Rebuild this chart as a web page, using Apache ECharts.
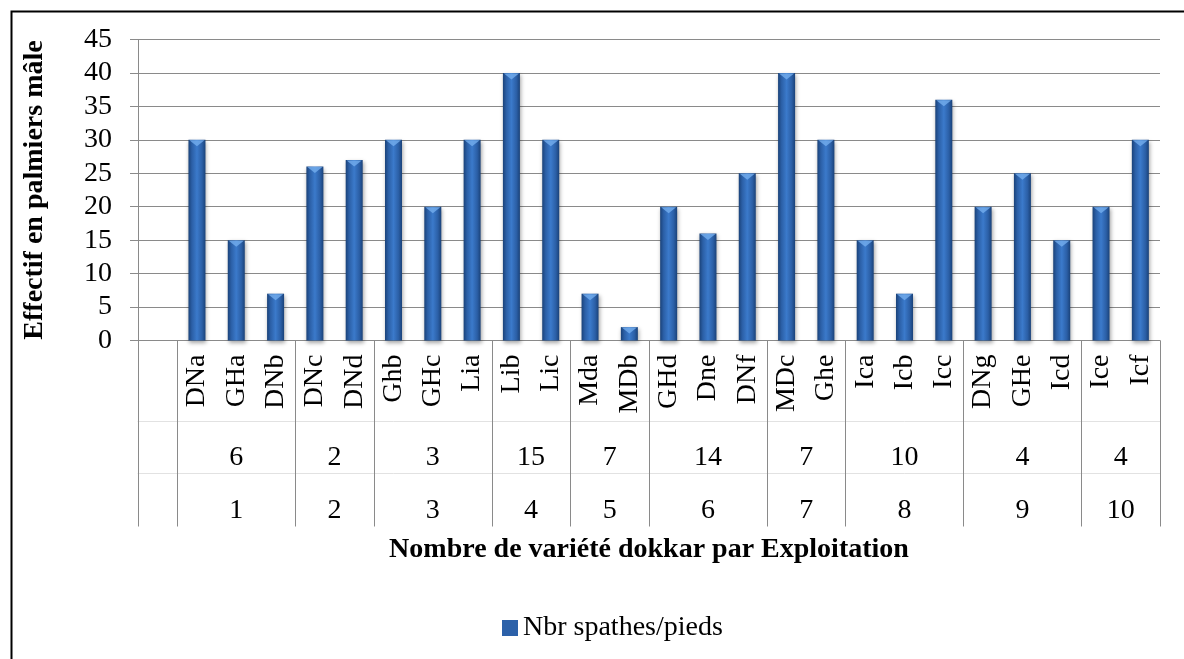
<!DOCTYPE html>
<html>
<head>
<meta charset="utf-8">
<script src="https://cdn.jsdelivr.net/npm/echarts@6/dist/echarts.min.js"></script>
<style>html,body{margin:0;padding:0;background:#fff}#c{width:1184px;height:659px}</style>
</head>
<body>
<div id="c"></div>
<script>
// ---- data ----
const varieties = ['DNa','GHa','DNb','DNc','DNd','Ghb','GHc','Lia','Lib','Lic','Mda','MDb','GHd','Dne','DNf','MDc','Ghe','Ica','Icb','Icc','DNg','GHe','Icd','Ice','Icf'];
const values = [30,15,7,26,27,30,20,30,40,30,7,2,20,16,25,40,30,15,7,36,20,25,15,20,30];
const nbVarietes = ['6','2','3','15','7','14','7','10','4','4'];
const exploitations = ['1','2','3','4','5','6','7','8','9','10'];
const groupSizes = [3,2,3,2,2,3,2,3,3,2];
const seriesName = 'Nbr spathes/pieds';
const yTitle = 'Effectif en palmiers mâle';
const xTitle = 'Nombre de variété dokkar par Exploitation';

// ---- derived ----
const categories = [''].concat(varieties);
const barData = ['-'].concat(values);
const nHalf = categories.length * 2 + 1;
const half1 = new Array(nHalf).fill('');
const half2 = new Array(nHalf).fill('');
const half3 = new Array(nHalf).fill('');
categories.forEach((c, i) => { half1[2 * i + 1] = c; });
const boundaries = new Set([0, 2]);
let start = 1;
groupSizes.forEach((s, g) => {
  half2[2 * start + s] = nbVarietes[g];
  half3[2 * start + s] = exploitations[g];
  start += s;
  boundaries.add(2 * start);
});
const h1 = half1.map((v, i) => i + '|' + v);
const h2 = half2.map((v, i) => i + '|' + v);
const h3 = half3.map((v, i) => i + '|' + v);
const fmt = v => v.split('|')[1];

const FONT = 'Liberation Serif';
const GRID_COL = '#8a8a8a';
const legendText = { fontFamily: FONT, fontSize: 28, color: '#000', fontWeight: 'normal' };

const chart = echarts.init(document.getElementById('c'), null, { renderer: 'canvas' });
const option = {
  backgroundColor: '#ffffff',
  animation: false,
  textStyle: { fontFamily: FONT, color: '#000' },
  graphic: [{
    type: 'rect', left: 9, top: 9,
    shape: { width: 1400, height: 900 },
    style: { fill: 'none', stroke: '#000', lineWidth: 2 }, silent: true
  }],
  grid: { left: 138, right: 24, top: 39.5, bottom: 318.5, containLabel: false },
  legend: {
    data: [{ name: seriesName, textStyle: legendText }], left: 497, top: 609,
    icon: 'rect', itemWidth: 16, itemHeight: 16, itemGap: 4,
    formatter: '{t|{name}}',
    textStyle: Object.assign({ rich: { t: legendText } }, legendText),
    itemStyle: { color: '#2c61a9' }
  },
  xAxis: [
    { type: 'category', data: categories, show: false, boundaryGap: true, gridIndex: 0 },
    {
      type: 'category', data: h1, boundaryGap: false, position: 'bottom', offset: 0,
      axisLine: { show: true, lineStyle: { color: GRID_COL, width: 1 } },
      axisTick: { show: true, length: 186, interval: (i) => boundaries.has(i), lineStyle: { color: GRID_COL, width: 1 } },
      axisLabel: { interval: 0, rotate: 90, margin: 14, formatter: fmt, fontFamily: FONT, fontSize: 28, color: '#000' },
      splitLine: { show: false },
      name: xTitle, nameLocation: 'middle', nameGap: 195,
      nameTextStyle: { fontFamily: FONT, fontSize: 28, fontWeight: 'bold', color: '#000' }
    },
    {
      type: 'category', data: h2, boundaryGap: false, position: 'bottom', offset: 81,
      axisLine: { show: true, lineStyle: { color: '#e2e2e2', width: 1 } },
      axisTick: { show: false },
      axisLabel: { interval: 0, margin: 22, formatter: fmt, fontFamily: FONT, fontSize: 28, color: '#000' }
    },
    {
      type: 'category', data: h3, boundaryGap: false, position: 'bottom', offset: 133,
      axisLine: { show: true, lineStyle: { color: '#e2e2e2', width: 1 } },
      axisTick: { show: false },
      axisLabel: { interval: 0, margin: 23, formatter: fmt, fontFamily: FONT, fontSize: 28, color: '#000' }
    }
  ],
  yAxis: {
    type: 'value', min: 0, max: 45, interval: 5,
    axisLine: { show: true, lineStyle: { color: GRID_COL, width: 1 } },
    axisTick: { show: true, length: 8, lineStyle: { color: GRID_COL } },
    axisLabel: { margin: 26, fontFamily: FONT, fontSize: 28, color: '#000' },
    splitLine: { show: true, lineStyle: { color: GRID_COL, width: 1.2 } },
    name: yTitle, nameLocation: 'middle', nameGap: 89,
    nameTextStyle: { fontFamily: FONT, fontSize: 28, fontWeight: 'bold', color: '#000' }
  },
  series: [
    {
      name: seriesName, type: 'bar', xAxisIndex: 0, data: barData, barWidth: 17,
      itemStyle: {
        color: new echarts.graphic.LinearGradient(0, 0, 1, 0, [
          { offset: 0, color: '#1a4279' },
          { offset: 0.2, color: '#2b5fa6' },
          { offset: 0.5, color: '#3b7acb' },
          { offset: 0.8, color: '#2b5fa6' },
          { offset: 1, color: '#1a4279' }
        ]),
        shadowColor: 'rgba(0,0,0,0.35)', shadowBlur: 4, shadowOffsetX: 1, shadowOffsetY: 2
      }
    },
    {
      name: 'bevel', type: 'scatter', xAxisIndex: 0, data: barData,
      symbol: 'path://M0,0 L10,0 L5,4 Z', symbolKeepAspect: false,
      symbolSize: [15, 6], symbolOffset: [0, 3.5],
      itemStyle: { color: '#74aeee' }, z: 5, silent: true
    }
  ]
};
chart.setOption(option);
</script>
</body>
</html>
